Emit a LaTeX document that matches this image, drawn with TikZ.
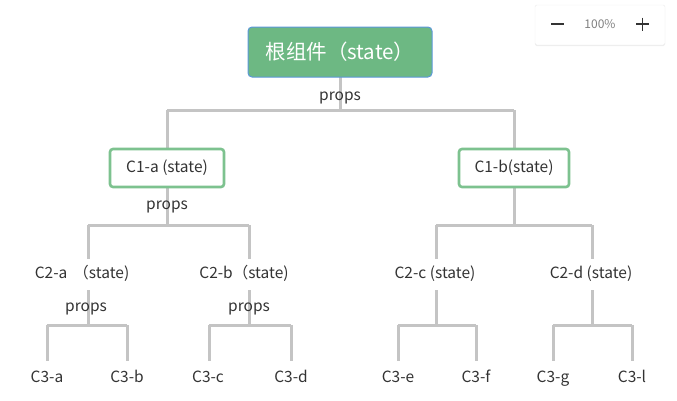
\documentclass[tikz,border=0pt]{standalone}
\usepackage{fontspec}
\setmainfont{Noto Sans CJK SC}
\usetikzlibrary{shadows}
\definecolor{edgegray}{HTML}{C4C4C4}
\definecolor{boxgreen}{HTML}{7DC28F}
\definecolor{rootgreen}{HTML}{6DB883}
\definecolor{rootblue}{HTML}{5B97DA}
\definecolor{txt}{HTML}{333333}
\tikzset{
  x=1pt, y=-1pt,
  edge/.style={draw=edgegray, line width=3pt},
  rootbox/.style={draw=rootblue, line width=1pt, fill=rootgreen, rounded corners=4pt, minimum width=184pt, minimum height=50pt, text=white, font=\fontsize{20.5}{24}\selectfont},
  cbox/.style={draw=boxgreen, line width=2.6pt, fill=white, rounded corners=3pt, minimum height=38pt, text=txt, font=\fontsize{15.5}{18}\selectfont},
  plain/.style={text=txt, font=\fontsize{15.5}{18}\selectfont, inner sep=1pt, text height=11pt, text depth=3pt},
  lbl/.style={text=txt, font=\fontsize{15.5}{18}\selectfont, inner sep=0pt, text height=11pt, text depth=3pt},
}
\begin{document}
\begin{tikzpicture}
\useasboundingbox (0,0) rectangle (677,400);
% zoom widget
\node[draw=gray!15, fill=white, drop shadow={shadow xshift=0pt, shadow yshift=-1pt, opacity=0.15}, rounded corners=2pt, minimum width=130pt, minimum height=40pt] (zoombox) at (600,25) {};
\draw[txt, line width=1.4pt] (551,24) -- (564,24);
\node[text=gray, font=\fontsize{12}{14}\selectfont] (zpct) at (600,24) {100\%};
\draw[txt, line width=1.4pt] (636,24) -- (649,24) (642.5,17.5) -- (642.5,30.5);

% coordinates
\coordinate (r-bar) at (340,110);
\coordinate (ra) at (167,110);
\coordinate (rb) at (514,110);
\coordinate (a-bar) at (167,225);
\coordinate (aa) at (88,225);
\coordinate (ab) at (249,225);
\coordinate (b-bar) at (514,225);
\coordinate (ba) at (436,225);
\coordinate (bb) at (592,225);
\coordinate (c2a-top) at (88,259);
\coordinate (c2b-top) at (249,259);
\coordinate (c2c-top) at (436,259);
\coordinate (c2d-top) at (592,259);

% edges first
\draw[edge] (340,77) -- (r-bar);
\draw[edge] (ra) -- (rb);
\draw[edge] (ra) -- (167,149);
\draw[edge] (rb) -- (514,149);
\draw[edge] (167,187) -- (a-bar);
\draw[edge] (514,187) -- (b-bar);
\draw[edge] (aa) -- (ab);
\draw[edge] (ba) -- (bb);
\draw[edge] (aa) -- (c2a-top);
\draw[edge] (ab) -- (c2b-top);
\draw[edge] (ba) -- (c2c-top);
\draw[edge] (bb) -- (c2d-top);

% level 3 structures
\foreach \cx/\l/\r in {88/47/127, 249/209/291, 436/398/476, 592/553/632}{
  \draw[edge] (\cx,290) -- (\cx,325);
  \draw[edge] (\l,325) -- (\r,325);
  \draw[edge] (\l,325) -- (\l,361);
  \draw[edge] (\r,325) -- (\r,361);
}

% nodes
\node[rootbox] (root) at (340,52) {根组件（state）};
\node[cbox, minimum width=114pt] (c1a) at (167,168) {C1-a (state)};
\node[cbox, minimum width=110pt] (c1b) at (514,168) {C1-b(state)};

\node[lbl] (p0) at (340,96.5) {props};
\node[lbl] (p1) at (167,205.5) {props};
\node[lbl] (p2) at (86,307.5) {props};
\node[lbl] (p3) at (249,307.5) {props};

\node[plain] (c2a) at (82,274.5) {C2-a \,（state)};
\node[plain] (c2b) at (244,274.5) {C2-b（state)};
\node[plain] (c2c) at (435,274.5) {C2-c (state)};
\node[plain] (c2d) at (591,274.5) {C2-d (state)};

\node[plain] (c3a) at (47,378.5) {C3-a};
\node[plain] (c3b) at (127,378.5) {C3-b};
\node[plain] (c3c) at (208,378.5) {C3-c};
\node[plain] (c3d) at (291,378.5) {C3-d};
\node[plain] (c3e) at (398,378.5) {C3-e};
\node[plain] (c3f) at (476,378.5) {C3-f};
\node[plain] (c3g) at (553,378.5) {C3-g};
\node[plain] (c3l) at (632,378.5) {C3-l};
\end{tikzpicture}
\end{document}
